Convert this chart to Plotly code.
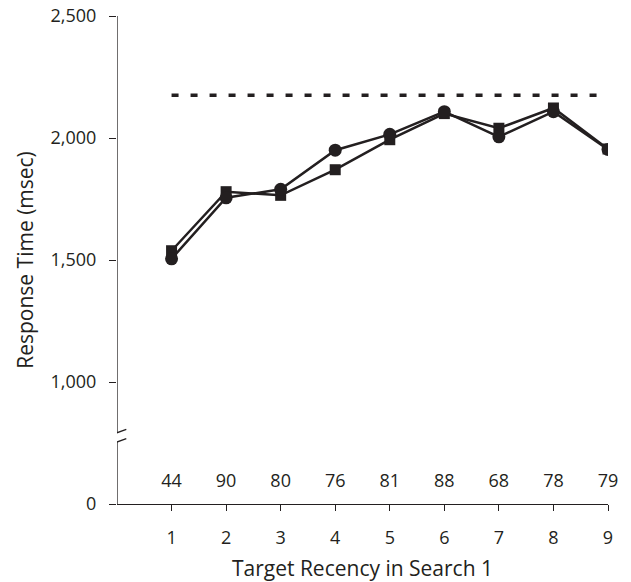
import plotly.graph_objects as go

# ---- data ----
recency = [1, 2, 3, 4, 5, 6, 7, 8, 9]
rt_square = [1538, 1780, 1765, 1870, 1993, 2100, 2040, 2123, 1955]
rt_circle = [1505, 1755, 1790, 1950, 2015, 2108, 2005, 2108, 1953]
counts = ["44", "90", "80", "76", "81", "88", "68", "78", "79"]
ref_x = [1, 9]
ref_y = [2175, 2175]
ytick_vals = [500, 1000, 1500, 2000, 2500]      # 500 position shows the broken-axis "0"
ytick_text = ["0", "1,000", "1,500", "2,000", "2,500"]
count_row_y = 590

INK = "#231f20"
FONT = "Open Sans"

fig = go.Figure()

fig.add_trace(go.Scatter(
    x=ref_x, y=ref_y, mode="lines",
    line=dict(color=INK, width=3.5, dash="7px,12px"),
    hoverinfo="skip", showlegend=False))

fig.add_trace(go.Scatter(
    x=recency, y=rt_square, mode="lines+markers",
    line=dict(color=INK, width=2.5),
    marker=dict(symbol="square", size=11, color=INK),
    showlegend=False))

fig.add_trace(go.Scatter(
    x=recency, y=rt_circle, mode="lines+markers",
    line=dict(color=INK, width=2.5),
    marker=dict(symbol="circle", size=13, color=INK),
    showlegend=False))

fig.add_trace(go.Scatter(
    x=recency, y=[count_row_y] * len(recency), mode="text",
    text=counts, textposition="middle center",
    textfont=dict(family=FONT, size=18, color=INK),
    cliponaxis=False,
    hoverinfo="skip", showlegend=False))

# broken y-axis line and break marks
brk = 773
shapes = [
    dict(type="line", xref="x", yref="y", x0=0, x1=0, y0=brk + 19, y1=2500,
         line=dict(color=INK, width=1.3)),
    dict(type="line", xref="x", yref="y", x0=0, x1=0, y0=500, y1=brk - 19,
         line=dict(color=INK, width=1.3)),
    dict(type="line", xref="x", yref="y", xsizemode="pixel", ysizemode="pixel",
         xanchor=0, yanchor=brk, x0=-12.4, x1=9.3, y0=0.3, y1=8.0,
         line=dict(color=INK, width=1.3)),
    dict(type="line", xref="x", yref="y", xsizemode="pixel", ysizemode="pixel",
         xanchor=0, yanchor=brk, x0=-12.4, x1=9.3, y0=-9.0, y1=-1.3,
         line=dict(color=INK, width=1.3)),
]

fig.update_layout(
    width=631, height=582,
    margin=dict(l=116.5, r=23, t=15.5, b=78.3),
    paper_bgcolor="white", plot_bgcolor="white",
    font=dict(family=FONT, color=INK, size=18),
    shapes=shapes,
)

fig.update_xaxes(
    range=[0, 9], tickvals=recency, ticktext=[str(v) for v in recency],
    showgrid=False, zeroline=False, automargin=False,
    showline=True, linecolor=INK, linewidth=1.3,
    ticks="outside", ticklen=6, tickwidth=1.3, tickcolor=INK,
    tickfont=dict(family=FONT, size=18, color=INK),
    ticklabelstandoff=11, ticklabeloverflow="allow",
    title=dict(text="Target Recency in Search 1", font=dict(family=FONT, size=21, color=INK),
               standoff=13),
)

fig.update_yaxes(
    range=[500, 2500], tickvals=ytick_vals, ticktext=ytick_text,
    showgrid=False, zeroline=False, showline=False, automargin=False,
    ticks="outside", ticklen=7, tickwidth=1.3, tickcolor=INK,
    tickfont=dict(family=FONT, size=18, color=INK),
    ticklabelstandoff=9, ticklabeloverflow="allow",
    title=dict(text="Response Time (msec)", font=dict(family=FONT, size=21, color=INK),
               standoff=11),
)

fig.write_html("out.html", config={"displayModeBar": False},
               post_script="document.body.style.margin='0';")
